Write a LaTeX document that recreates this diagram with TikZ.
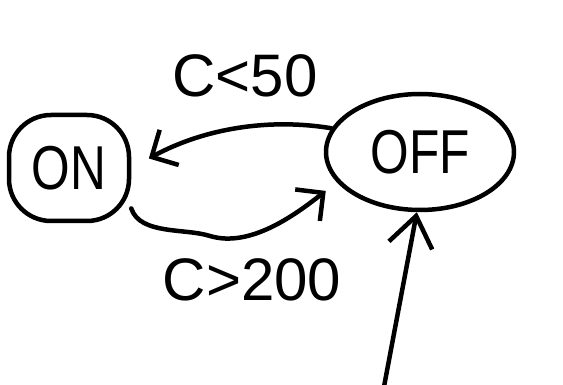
\documentclass[tikz,border=0pt]{standalone}
\usepackage{fontspec}
\setmainfont{Liberation Sans}
\usetikzlibrary{shapes.geometric,arrows.meta}

\tikzset{
  state/.style={draw=black, line width=4.5pt, font=\fontsize{62}{62}\selectfont},
  trans/.style={draw=black, line width=4.5pt, line cap=round,
    -{Straight Barb[length=20pt,width=40pt,line width=4.5pt]}},
  guard/.style={font=\fontsize{60}{60}\selectfont}
}

\begin{document}
\begin{tikzpicture}[x=1pt,y=-1pt]
  \useasboundingbox (0,0) rectangle (563,385);
  % os dois estados
  \node at (69,168) (on) [state, rectangle, rounded corners=42pt, inner sep=0pt,
    minimum width=120pt, minimum height=106pt] {\scalebox{0.8}[1]{ON}};
  \node at (420,152) (off) [state, ellipse, inner sep=0pt, minimum width=188pt,
    minimum height=116pt] {\scalebox{0.8}[1]{OFF}};
  \coordinate (start) at (383,392);
  % transicoes
  \draw[trans, shorten >=20pt] (off.165) .. controls (270,118) and (205,128) .. (on.east);
  \draw[trans, shorten >=14pt] (on.-33) .. controls (140,235) and (185,228) .. (210,236)
    .. controls (250,248) and (295,215) .. (off.200);
  \draw[trans, -{Straight Barb[length=30pt,width=44pt,line width=4.5pt]}] (start) -- (off.-93);
  % guardas
  \node at (245,76) (lt) [guard] {C<50};
  \node at (252,280) (gt) [guard] {C>200};
\end{tikzpicture}
\end{document}
